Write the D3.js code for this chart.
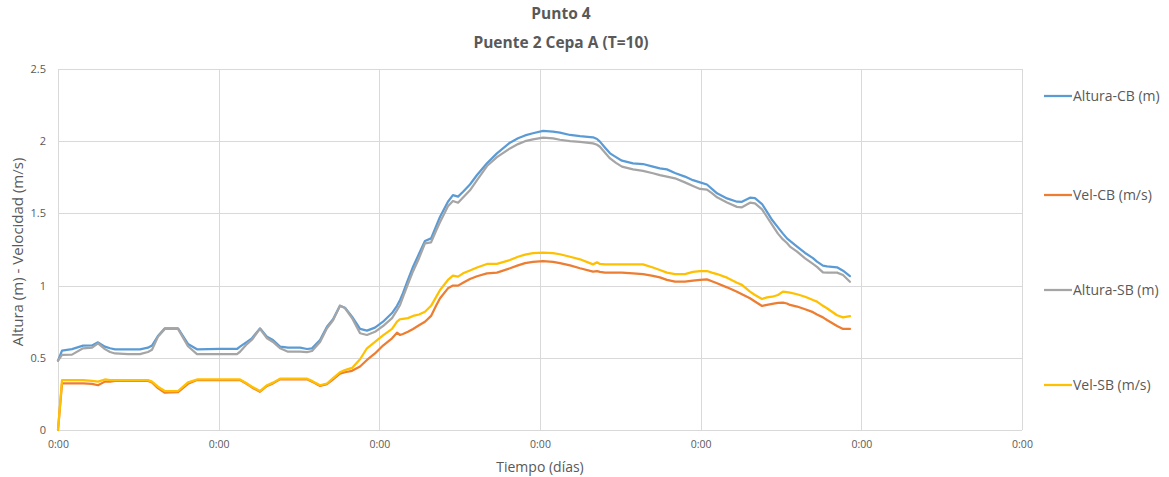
<!DOCTYPE html>
<html>
<head>
<meta charset="utf-8">
<script src="https://cdn.jsdelivr.net/npm/d3@7"></script>
<style>
  html, body { margin: 0; padding: 0; background: #fff; }
  svg { display: block; }
</style>
</head>
<body>
<svg id="chart" width="1169" height="477"></svg>
<script>
// ---- DATA ----
const titleLines = ["Punto 4", "Puente 2 Cepa A (T=10)"];
const xTickValues = [0, 1, 2, 3, 4, 5, 6];
const xTickLabels = ["0:00", "0:00", "0:00", "0:00", "0:00", "0:00", "0:00"];
const yTickValues = [0, 0.5, 1, 1.5, 2, 2.5];
const yTickLabels = ["0", "0.5", "1", "1.5", "2", "2.5"];
const seriesNames = ["Altura-CB (m)", "Vel-CB (m/s)", "Altura-SB (m)", "Vel-SB (m/s)"];

// time in days
const timeDays = [
  0, 0.025, 0.087, 0.156, 0.212, 0.249, 0.292, 0.324, 0.355, 0.436, 0.510, 0.560, 0.585, 0.622, 0.665, 0.747, 0.809, 0.865,
  1.008, 1.114, 1.133, 1.176, 1.207, 1.257, 1.301, 1.338, 1.382, 1.432, 1.507, 1.550, 1.581, 1.631, 1.674, 1.712, 1.755, 1.786, 1.830, 1.880, 1.923, 1.973,
  2.023, 2.079, 2.110, 2.129, 2.147, 2.178, 2.210, 2.247, 2.284, 2.322, 2.353, 2.378, 2.427, 2.458, 2.490, 2.521, 2.564, 2.608, 2.670, 2.732, 2.813, 2.863, 2.907, 2.956,
  3.019, 3.081, 3.124, 3.187, 3.249, 3.330, 3.355, 3.373, 3.405, 3.436, 3.473, 3.510, 3.579, 3.641, 3.703, 3.746, 3.790, 3.840, 3.902, 3.952, 3.996,
  4.039, 4.070, 4.102, 4.164, 4.226, 4.257, 4.307, 4.338, 4.382, 4.413, 4.445, 4.481, 4.512, 4.537, 4.556, 4.600, 4.650, 4.699, 4.724, 4.761, 4.786, 4.849, 4.886, 4.929
];

const alturaCB = [
  0.48, 0.55, 0.56, 0.584, 0.586, 0.607, 0.577, 0.566, 0.559, 0.559, 0.559, 0.57, 0.585, 0.651, 0.704, 0.704, 0.596, 0.559,
  0.561, 0.561, 0.577, 0.61, 0.635, 0.704, 0.645, 0.623, 0.577, 0.57, 0.57, 0.561, 0.566, 0.623, 0.715, 0.767, 0.861, 0.847, 0.785, 0.70, 0.688, 0.709,
  0.75, 0.81, 0.86, 0.90, 0.947, 1.04, 1.131, 1.22, 1.309, 1.327, 1.41, 1.477, 1.581, 1.627, 1.616, 1.65, 1.70, 1.766, 1.847, 1.916, 1.99, 2.02, 2.04, 2.055,
  2.071, 2.066, 2.059, 2.043, 2.035, 2.027, 2.015, 1.997, 1.955, 1.916, 1.89, 1.865, 1.847, 1.842, 1.824, 1.812, 1.805, 1.78, 1.755, 1.73, 1.715,
  1.70, 1.67, 1.639, 1.604, 1.581, 1.58, 1.609, 1.605, 1.565, 1.51, 1.454, 1.403, 1.36, 1.327, 1.31, 1.27, 1.226, 1.19, 1.166, 1.138, 1.133, 1.127, 1.103, 1.066
];

const velCB = [
  0.0, 0.323, 0.323, 0.323, 0.32, 0.31, 0.335, 0.335, 0.34, 0.34, 0.34, 0.34, 0.33, 0.29, 0.258, 0.262, 0.32, 0.346,
  0.346, 0.346, 0.346, 0.318, 0.295, 0.265, 0.305, 0.323, 0.351, 0.351, 0.351, 0.351, 0.335, 0.305, 0.318, 0.35, 0.39, 0.40, 0.41, 0.44, 0.485, 0.53,
  0.585, 0.635, 0.674, 0.658, 0.665, 0.68, 0.70, 0.725, 0.75, 0.79, 0.86, 0.912, 0.981, 1.0, 1.0, 1.02, 1.046, 1.065, 1.085, 1.09, 1.12, 1.14, 1.156, 1.165,
  1.17, 1.165, 1.155, 1.14, 1.12, 1.097, 1.10, 1.095, 1.09, 1.09, 1.09, 1.09, 1.085, 1.08, 1.068, 1.057, 1.04, 1.027, 1.027, 1.034, 1.04,
  1.043, 1.03, 1.016, 0.988, 0.958, 0.94, 0.912, 0.89, 0.859, 0.866, 0.873, 0.88, 0.882, 0.876, 0.866, 0.855, 0.836, 0.816, 0.80, 0.78, 0.762, 0.72, 0.70, 0.70
];

const alturaSB = [
  0.48, 0.52, 0.522, 0.566, 0.57, 0.60, 0.56, 0.54, 0.53, 0.526, 0.526, 0.54, 0.556, 0.645, 0.70, 0.70, 0.58, 0.526,
  0.526, 0.526, 0.542, 0.595, 0.625, 0.70, 0.635, 0.61, 0.566, 0.542, 0.542, 0.54, 0.547, 0.61, 0.705, 0.76, 0.861, 0.845, 0.775, 0.67, 0.658, 0.68,
  0.72, 0.775, 0.83, 0.866, 0.92, 1.01, 1.10, 1.19, 1.293, 1.30, 1.38, 1.44, 1.55, 1.586, 1.574, 1.61, 1.66, 1.73, 1.828, 1.89, 1.95, 1.98, 2.0, 2.012,
  2.025, 2.02, 2.01, 2.0, 1.995, 1.985, 1.975, 1.962, 1.92, 1.881, 1.85, 1.824, 1.805, 1.795, 1.778, 1.765, 1.755, 1.743, 1.715, 1.69, 1.669,
  1.665, 1.64, 1.611, 1.575, 1.545, 1.542, 1.574, 1.57, 1.528, 1.475, 1.42, 1.36, 1.32, 1.295, 1.27, 1.235, 1.189, 1.15, 1.13, 1.092, 1.09, 1.09, 1.073, 1.027
];

const velSB = [
  0.0, 0.345, 0.345, 0.345, 0.34, 0.335, 0.35, 0.345, 0.345, 0.345, 0.345, 0.345, 0.335, 0.30, 0.27, 0.27, 0.33, 0.35,
  0.35, 0.35, 0.35, 0.322, 0.30, 0.27, 0.31, 0.328, 0.355, 0.355, 0.355, 0.355, 0.34, 0.31, 0.322, 0.36, 0.40, 0.415, 0.43, 0.49, 0.566, 0.61,
  0.655, 0.70, 0.75, 0.767, 0.77, 0.775, 0.79, 0.80, 0.819, 0.86, 0.92, 0.97, 1.039, 1.069, 1.062, 1.085, 1.105, 1.125, 1.15, 1.15, 1.177, 1.20, 1.215, 1.225,
  1.228, 1.225, 1.217, 1.20, 1.182, 1.147, 1.161, 1.15, 1.147, 1.147, 1.147, 1.147, 1.147, 1.147, 1.125, 1.108, 1.09, 1.08, 1.08, 1.095, 1.10,
  1.101, 1.09, 1.08, 1.055, 1.02, 1.005, 0.958, 0.935, 0.907, 0.918, 0.923, 0.935, 0.958, 0.955, 0.951, 0.94, 0.923, 0.90, 0.889, 0.86, 0.843, 0.795, 0.78, 0.789
];

const seriesValues = [alturaCB, velCB, alturaSB, velSB];
const seriesColors = ["#5B9BD5", "#ED7D31", "#A5A5A5", "#FFC000"];

// ---- LAYOUT ----
const svg = d3.select("#chart");
const plot = { left: 58, right: 1022, top: 69, bottom: 430 };
const font = "'Open Sans', 'Noto Sans', sans-serif";
const textColor = "#595959";
const gridColor = "#D9D9D9";

const x = d3.scaleLinear().domain([0, 6]).range([plot.left, plot.right]);
const y = d3.scaleLinear().domain([0, 2.5]).range([plot.bottom, plot.top]);

// gridlines
const g = svg.append("g");
g.selectAll("line.hg").data(yTickValues).join("line")
  .attr("x1", plot.left).attr("x2", plot.right)
  .attr("y1", d => Math.round(y(d)) + 0.5).attr("y2", d => Math.round(y(d)) + 0.5)
  .attr("stroke", gridColor).attr("stroke-width", 1);
g.selectAll("line.vg").data(xTickValues).join("line")
  .attr("y1", plot.top).attr("y2", plot.bottom)
  .attr("x1", d => Math.round(x(d)) + 0.5).attr("x2", d => Math.round(x(d)) + 0.5)
  .attr("stroke", gridColor).attr("stroke-width", 1);

// y axis labels
const yAxis = d3.axisLeft(y).tickValues(yTickValues).tickSize(0).tickPadding(0)
  .tickFormat((d, i) => yTickLabels[i]);
const yg = svg.append("g").attr("transform", `translate(${plot.left - 12},0)`).call(yAxis);
yg.select(".domain").remove();
yg.selectAll("text").attr("font-family", font).attr("font-size", 11).attr("fill", textColor);

// x axis labels
const xAxis = d3.axisBottom(x).tickValues(xTickValues).tickSize(0).tickPadding(0)
  .tickFormat((d, i) => xTickLabels[i]);
const xg = svg.append("g").attr("transform", `translate(0,${plot.bottom + 11})`).call(xAxis);
xg.select(".domain").remove();
xg.selectAll("text").attr("font-family", font).attr("font-size", 10.5).attr("fill", textColor);

// lines
const line = d3.line().x((d, i) => x(timeDays[i])).y(d => y(d));
svg.append("g").selectAll("path").data(seriesValues).join("path")
  .attr("d", d => line(d))
  .attr("fill", "none")
  .attr("stroke", (d, i) => seriesColors[i])
  .attr("stroke-width", 2.25)
  .attr("stroke-linejoin", "round")
  .attr("stroke-linecap", "round");

// titles
svg.append("text").attr("x", 561).attr("y", 19).attr("text-anchor", "middle")
  .attr("font-family", font).attr("font-size", 15.5).attr("font-weight", "bold").attr("fill", textColor)
  .text(titleLines[0]);
svg.append("text").attr("x", 561).attr("y", 48).attr("text-anchor", "middle")
  .attr("font-family", font).attr("font-size", 15.5).attr("font-weight", "bold").attr("fill", textColor)
  .text(titleLines[1]);

// axis titles
svg.append("text").attr("x", 540).attr("y", 472).attr("text-anchor", "middle")
  .attr("font-family", font).attr("font-size", 14).attr("fill", textColor)
  .text("Tiempo (días)");
svg.append("text").attr("transform", "translate(23,252) rotate(-90)").attr("text-anchor", "middle")
  .attr("font-family", font).attr("font-size", 15).attr("fill", textColor)
  .text("Altura (m) - Velocidad (m/s)");

// legend
const legendY = [96, 195, 290, 385];
const lg = svg.append("g").selectAll("g").data(seriesNames).join("g")
  .attr("transform", (d, i) => `translate(1044,${legendY[i]})`);
lg.append("line").attr("x1", 0).attr("x2", 28).attr("y1", 0).attr("y2", 0)
  .attr("stroke", (d, i) => seriesColors[i]).attr("stroke-width", 2.25);
lg.append("text").attr("x", 29).attr("y", 0).attr("dy", "0.35em")
  .attr("font-family", font).attr("font-size", 14).attr("fill", textColor)
  .text(d => d);
</script>
</body>
</html>
